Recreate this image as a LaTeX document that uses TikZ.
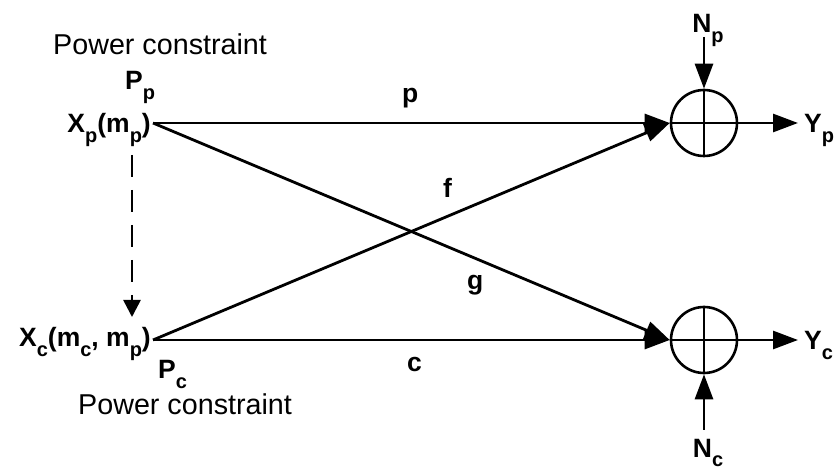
\documentclass[tikz,border=0pt]{standalone}
\usepackage{fontspec}
\setmainfont{Liberation Sans}
\usetikzlibrary{arrows.meta}
\newcommand{\sbs}[1]{\raisebox{-9.5pt}{\fontsize{20}{20}\selectfont #1}}
\begin{document}
\begin{tikzpicture}[x=1pt,y=-1pt,
  lbl/.style={font=\fontsize{26.5}{30}\selectfont\bfseries, inner sep=0pt},
  plain/.style={font=\fontsize{28.7}{32}\selectfont, inner sep=0pt},
  sumnode/.style={circle, draw, line width=2.6pt, minimum size=66pt, inner sep=0pt},
  conn/.style={line width=2.8pt, -{Triangle[length=25pt,width=18pt]}},
  dashconn/.style={line width=2.6pt, dash pattern=on 22pt off 13pt, -{Triangle[length=17pt,width=17pt]}}]
\useasboundingbox (0,0) rectangle (836,470);
% sum nodes
\node[sumnode] (yp) at (704,123) {};
\node[sumnode] (yc) at (704,340) {};
\draw[line width=2.6pt] (yp.north) -- (yp.south) (yp.west) -- (yp.east);
\draw[line width=2.6pt] (yc.north) -- (yc.south) (yc.west) -- (yc.east);
% transmitter labels
\node[lbl, anchor=base east] (xp) at (151,133) {X\sbs{p}(m\sbs{p})};
\node[lbl, anchor=base east] (xc) at (151,347) {X\sbs{c}(m\sbs{c}, m\sbs{p})};
\coordinate (xpo) at (153,123);
\coordinate (xco) at (153,340);
\node[plain, anchor=base west] (pc1) at (53,55) {Power constraint};
\node[lbl, anchor=base west] (pp) at (125,90) {P\sbs{p}};
\node[lbl, anchor=base west] (pcc) at (158,379) {P\sbs{c}};
\node[plain, anchor=base west] (pc2) at (78,415) {Power constraint};
% noise and outputs
\node[lbl, anchor=base] (np) at (708,33) {N\sbs{p}};
\node[lbl, anchor=base] (nc) at (708,457) {N\sbs{c}};
\coordinate (npo) at (704,37);
\coordinate (nco) at (704,430);
\node[lbl, anchor=base west] (ypl) at (804,133) {Y\sbs{p}};
\node[lbl, anchor=base west] (ycl) at (804,350) {Y\sbs{c}};
\coordinate (ypo) at (798,123);
\coordinate (yco) at (798,340);
% channel labels
\node[lbl, anchor=base west] (lp) at (402,103) {p};
\node[lbl, anchor=base west] (lf) at (443,198) {f};
\node[lbl, anchor=base west] (lg) at (467,290) {g};
\node[lbl, anchor=base west] (lc) at (407,372) {c};
% connectors
\draw[conn] (xpo) -- (yp.west);
\draw[conn] (xpo) -- (yc.west);
\draw[conn] (xco) -- (yp.west);
\draw[conn] (xco) -- (yc.west);
\draw[conn] (npo) -- (yp.north);
\draw[conn] (nco) -- (yc.south);
\draw[conn] (yp.east) -- (ypo);
\draw[conn] (yc.east) -- (yco);
\coordinate (ds) at (132,155);
\coordinate (de) at (132,317);
\draw[dashconn] (ds) -- (de);
\end{tikzpicture}
\end{document}
